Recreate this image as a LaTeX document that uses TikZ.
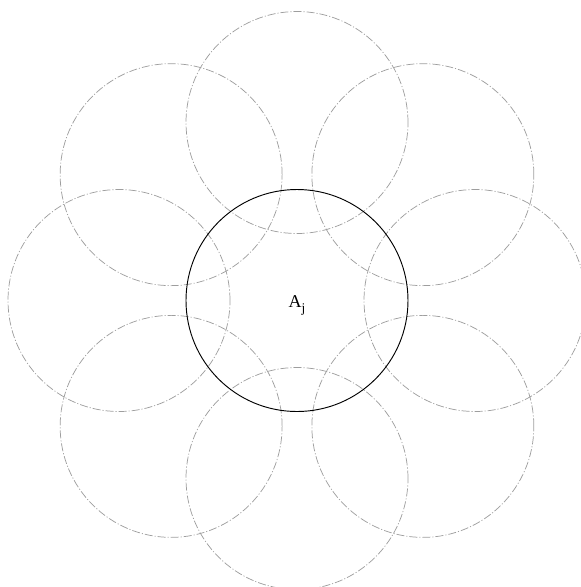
\documentclass[tikz,border=0pt]{standalone}
\usepackage{fontspec}
\setmainfont{Liberation Serif}
\usetikzlibrary{calc}
\begin{document}
\begin{tikzpicture}[x=0.75pt,y=-0.75pt,
  outer/.style={draw=black!38, line width=0.55pt, dash pattern=on 6pt off 1.5pt on 0.8pt off 1.5pt},
  inner/.style={draw=black, line width=0.7pt}]
\useasboundingbox (0,0) rectangle (581,587);
\coordinate (c) at (297,300.5);
\foreach \a in {0,45,...,315}{
  \draw[outer] ($(c)+(\a:178)$) circle [radius=111*0.75pt];
}
\draw[inner] (c) circle [radius=111*0.75pt];
\node[font=\fontsize{13.5}{15}\selectfont, inner sep=0pt] (lbl) at (297,305) {A\raisebox{-0.6ex}{\fontsize{10}{11}\selectfont j}};
\end{tikzpicture}
\end{document}
